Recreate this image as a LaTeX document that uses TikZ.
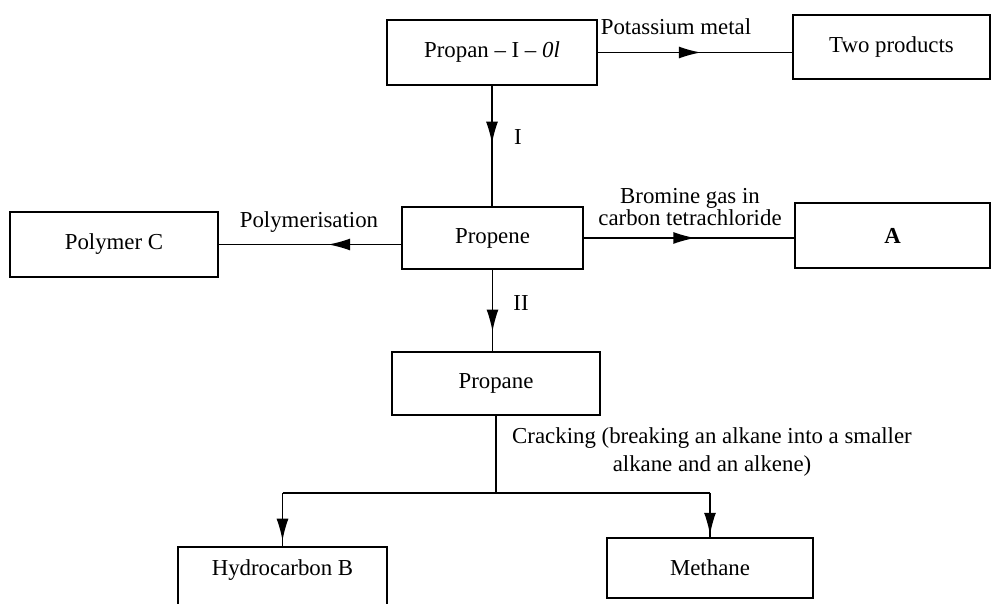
\documentclass[tikz,border=0pt]{standalone}
\usepackage{fontspec}
\setmainfont{Liberation Serif}
\usetikzlibrary{arrows.meta,decorations.markings}

\begin{document}
\begin{tikzpicture}[
    x=0.02cm, y=-0.02cm,
    every node/.style={font=\fontsize{13}{16}\selectfont},
    box/.style={draw, line width=1.2pt, inner sep=0pt},
    conn/.style={line width=0.8pt},
    midarrow/.style={postaction={decorate}, decoration={markings,
        mark=at position #1 with {\arrow{Latex[length=4.4mm,width=2.4mm]}}}}
]
    \useasboundingbox (0,0) rectangle (992,604);
    \clip (0,0) rectangle (992,604);

    % === BOXES ===
    \node[box, minimum width=4.2cm, minimum height=1.3cm] (propanol) at (492,52.5) {Propan – I – \textit{0l}};
    \node[box, minimum width=3.94cm, minimum height=1.28cm] (products) at (891.5,47) {Two products};
    \node[box, minimum width=3.62cm, minimum height=1.24cm] (propene) at (492.5,238) {Propene};
    \node[box, minimum width=4.16cm, minimum height=1.3cm] (polymer) at (114,244.5) {Polymer C};
    \node[box, minimum width=3.9cm, minimum height=1.3cm] (prodA) at (892.5,235.5) {\textbf{A}};
    \node[box, minimum width=4.16cm, minimum height=1.26cm] (propane) at (496,383.5) {Propane};
    \node[box, minimum width=4.18cm, minimum height=1.46cm,
          text height=0.3cm, text depth=0.6cm] (hydroB) at (282.5,583.5) {Hydrocarbon B};
    \node[box, minimum width=4.12cm, minimum height=1.2cm] (methane) at (710,568) {Methane};

    % === LABELS ===
    \node (potassium) at (676,27) {Potassium metal};
    \node (stepI) at (518,137) {I};
    \node (polymerisation) at (309,222) {Polymerisation};
    \node[align=center, font=\fontsize{13}{13}\selectfont] (bromine) at (690,207) {Bromine gas in\\carbon tetrachloride};
    \node (stepII) at (521,303) {II};
    \node[align=center] (cracking) at (712,452) {Cracking (breaking an alkane into a smaller\\alkane and an alkene)};

    % === CONNECTORS ===
    \draw[conn, midarrow=0.53] (propanol.east) -- (propanol.east -| products.west);
    \draw[conn, midarrow=0.48] (propanol.south) -- (propanol.south |- propene.north);
    \draw[conn, midarrow=0.40] (propene.west |- polymer.east) -- (polymer.east);
    \draw[conn, midarrow=0.53] (propene.east) -- (propene.east -| prodA.west);
    \draw[conn, midarrow=0.76] (propene.south) -- (propene.south |- propane.north);

    % Cracking split
    \coordinate (crack) at (496,493);
    \draw[conn] (propane.south) -- (crack);
    \draw[conn] (crack -| hydroB.north) -- (crack -| methane.north);
    \draw[conn, midarrow=0.9] (crack -| hydroB.north) -- (hydroB.north);
    \draw[conn, midarrow=0.95] (crack -| methane.north) -- (methane.north);
\end{tikzpicture}
\end{document}
